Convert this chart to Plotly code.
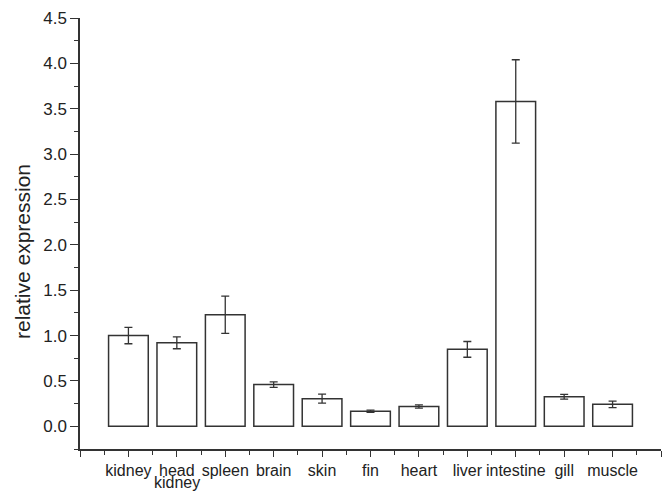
import plotly.graph_objects as go

tissues = ["kidney", "head\nkidney", "spleen", "brain", "skin", "fin",
           "heart", "liver", "intestine", "gill", "muscle"]
expression = [1.00, 0.92, 1.23, 0.46, 0.305, 0.167, 0.218, 0.848, 3.58, 0.325, 0.242]
errors = [0.09, 0.065, 0.205, 0.03, 0.05, 0.012, 0.018, 0.087, 0.46, 0.026, 0.035]

y_major = [0.0, 0.5, 1.0, 1.5, 2.0, 2.5, 3.0, 3.5, 4.0, 4.5]
y_minor = [-0.25, 0.25, 0.75, 1.25, 1.75, 2.25, 2.75, 3.25, 3.75, 4.25]
y_title = "relative expression"

line_col = "#333333"
text_col = "#222222"
font_family = "Liberation Sans, Arial, sans-serif"

x_pos = list(range(len(tissues)))
first_lines = [t.split("\n")[0] for t in tissues]

fig = go.Figure()
fig.add_trace(go.Bar(
    x=x_pos,
    y=expression,
    width=0.82,
    marker=dict(color="white", line=dict(color=line_col, width=1.5)),
    error_y=dict(type="data", array=errors, visible=True,
                 color=line_col, thickness=1.3, width=4),
    showlegend=False,
))

# second lines of wrapped category names, set tighter than plotly's <br> spacing
for i, t in enumerate(tissues):
    parts = t.split("\n")
    if len(parts) > 1:
        fig.add_annotation(x=x_pos[i], y=0, xref="x", yref="paper",
                           text=parts[1], showarrow=False, borderpad=0,
                           xanchor="center", yanchor="bottom", yshift=-43,
                           font=dict(size=16, color=text_col, family=font_family))

# y-axis title, placed a little below the plot's vertical centre
fig.add_annotation(x=0, y=0.457, xref="paper", yref="paper",
                   text=y_title, textangle=-90, showarrow=False,
                   xanchor="center", yanchor="middle", xshift=-58,
                   font=dict(size=21, color=text_col, family=font_family))

x_ticks = [-1] + x_pos + [len(tissues)]
x_text = [""] + first_lines + [""]
x_minor = [i - 0.5 for i in range(len(tissues) + 1)]

fig.update_layout(
    width=667, height=492,
    margin=dict(l=80, r=6, t=18, b=43),
    plot_bgcolor="white",
    paper_bgcolor="white",
    font=dict(family=font_family, size=17, color=text_col),
    xaxis=dict(
        range=[-1, len(tissues)],
        tickmode="array", tickvals=x_ticks, ticktext=x_text, tickangle=0,
        ticks="outside", ticklen=6, tickwidth=1.3, tickcolor=line_col,
        minor=dict(tickmode="array", tickvals=x_minor, ticks="outside",
                   ticklen=4, tickwidth=1.3, tickcolor=line_col),
        showline=True, linecolor=line_col, linewidth=1.5,
        showgrid=False, zeroline=False, automargin=False,
        tickfont=dict(size=16),
    ),
    yaxis=dict(
        range=[-0.25, 4.5],
        tickmode="array", tickvals=y_major,
        ticktext=[f"{v:.1f}" for v in y_major],
        ticks="outside", ticklen=8, tickwidth=1.3, tickcolor=line_col,
        minor=dict(tickmode="array", tickvals=y_minor, ticks="outside",
                   ticklen=4, tickwidth=1.3, tickcolor=line_col),
        showline=True, linecolor=line_col, linewidth=1.5,
        showgrid=False, zeroline=False, automargin=False,
        tickfont=dict(size=17),
    ),
)

fig.write_html("out.html")
